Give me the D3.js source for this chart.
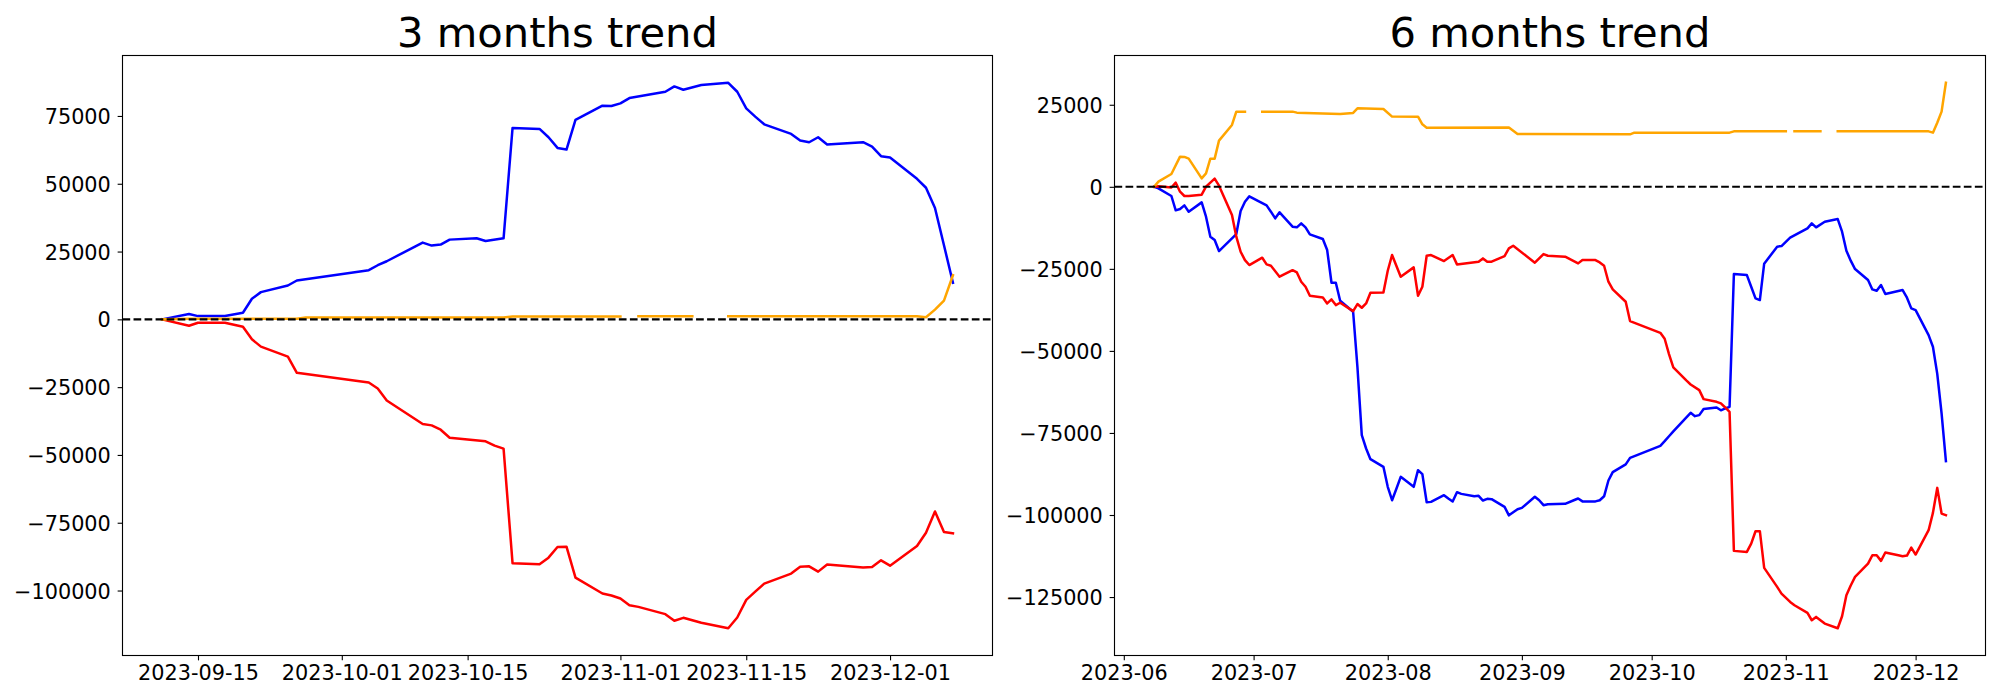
<!DOCTYPE html>
<html><head><meta charset="utf-8">
<script src="https://cdn.jsdelivr.net/npm/d3@7"></script>
<style>body{margin:0;background:#fff}svg{display:block}</style>
</head><body><svg id="chart" width="2000" height="700"></svg>
<script>
// ---------- 3 months trend ----------
const m3Blue = [["2023-09-11",0],["2023-09-14",1950],["2023-09-15",1200],["2023-09-18",1200],["2023-09-20",2440],["2023-09-21",7590],["2023-09-22",10040],["2023-09-25",12490],["2023-09-26",14330],["2023-10-04",18125],["2023-10-05",19960],["2023-10-06",21430],["2023-10-10",28300],["2023-10-11",27190],["2023-10-12",27560],["2023-10-13",29400],["2023-10-16",29890],["2023-10-17",28910],["2023-10-19",29890],["2023-10-20",70580],["2023-10-23",70210],["2023-10-24",67150],["2023-10-25",63220],["2023-10-26",62610],["2023-10-27",73520],["2023-10-30",78790],["2023-10-31",78670],["2023-11-01",79640],["2023-11-02",81600],["2023-11-06",83930],["2023-11-07",85900],["2023-11-08",84670],["2023-11-10",86390],["2023-11-13",87240],["2023-11-14",83930],["2023-11-15",77810],["2023-11-16",74740],["2023-11-17",71920],["2023-11-20",68370],["2023-11-21",65920],["2023-11-22",65310],["2023-11-23",67150],["2023-11-24",64450],["2023-11-28",65310],["2023-11-29",63710],["2023-11-30",60160],["2023-12-01",59670],["2023-12-04",51840],["2023-12-05",48530],["2023-12-06",41040],["2023-12-07",27320],["2023-12-08",13470]];
const m3Red = [["2023-09-11",0],["2023-09-14",-2340],["2023-09-15",-1240],["2023-09-18",-1240],["2023-09-20",-2700],["2023-09-21",-7360],["2023-09-22",-10060],["2023-09-25",-13740],["2023-09-26",-19700],["2023-10-04",-23300],["2023-10-05",-25490],["2023-10-06",-29910],["2023-10-10",-38610],["2023-10-11",-39100],["2023-10-12",-40700],["2023-10-13",-43640],["2023-10-17",-44990],["2023-10-18",-46580],["2023-10-19",-47680],["2023-10-20",-89960],["2023-10-23",-90330],["2023-10-24",-87870],["2023-10-25",-83960],["2023-10-26",-83830],["2023-10-27",-95220],["2023-10-30",-101100],["2023-10-31",-101840],["2023-11-01",-102940],["2023-11-02",-105390],["2023-11-03",-106020],["2023-11-06",-108710],["2023-11-07",-111160],["2023-11-08",-110060],["2023-11-10",-111900],["2023-11-13",-113900],["2023-11-14",-109940],["2023-11-15",-103440],["2023-11-16",-100380],["2023-11-17",-97440],["2023-11-20",-93760],["2023-11-21",-91190],["2023-11-22",-91070],["2023-11-23",-93030],["2023-11-24",-90440],["2023-11-28",-91540],["2023-11-29",-91310],["2023-11-30",-88860],["2023-12-01",-90820],["2023-12-04",-83590],["2023-12-05",-78690],["2023-12-06",-70840],["2023-12-07",-78450],["2023-12-08",-78930]];
const m3Orange = [["2023-09-11",0],["2023-09-14",200],["2023-09-26",200],["2023-09-27",650],["2023-10-19",700],["2023-10-20",1050],["2023-11-01",1050],["2023-11-02",null],["2023-11-03",1100],["2023-11-09",1100],["2023-11-10",null],["2023-11-13",1100],["2023-12-04",1100],["2023-12-05",800],["2023-12-06",3600],["2023-12-07",6900],["2023-12-08",16300]];
const m3YTicks = [-100000,-75000,-50000,-25000,0,25000,50000,75000];
const m3XTicks = ["2023-09-15","2023-10-01","2023-10-15","2023-11-01","2023-11-15","2023-12-01"];

// ---------- 6 months trend ----------
const m6Blue = [["2023-06-08",0],["2023-06-09",-500],["2023-06-12",-2800],["2023-06-13",-7170],["2023-06-14",-6770],["2023-06-15",-5650],["2023-06-16",-7580],["2023-06-19",-4740],["2023-06-20",-9100],["2023-06-21",-15200],["2023-06-22",-16220],["2023-06-23",-19570],["2023-06-27",-14390],["2023-06-28",-7380],["2023-06-29",-4530],["2023-06-30",-2910],["2023-07-04",-5650],["2023-07-05",-7580],["2023-07-06",-9610],["2023-07-07",-7780],["2023-07-10",-12150],["2023-07-11",-12350],["2023-07-12",-11140],["2023-07-13",-12350],["2023-07-14",-14490],["2023-07-17",-15910],["2023-07-18",-19270],["2023-07-19",-29230],["2023-07-20",-29230],["2023-07-21",-34720],["2023-07-24",-38070],["2023-07-25",-55000],["2023-07-26",-75670],["2023-07-27",-79740],["2023-07-28",-82990],["2023-07-31",-85330],["2023-08-01",-91420],["2023-08-02",-95490],["2023-08-03",-92000],["2023-08-04",-88370],["2023-08-07",-91420],["2023-08-08",-86340],["2023-08-09",-87560],["2023-08-10",-96100],["2023-08-11",-96000],["2023-08-14",-93960],["2023-08-15",-95000],["2023-08-16",-95900],["2023-08-17",-93050],["2023-08-18",-93560],["2023-08-21",-94270],["2023-08-22",-94170],["2023-08-23",-95590],["2023-08-24",-95080],["2023-08-25",-95180],["2023-08-28",-97520],["2023-08-29",-100100],["2023-08-31",-98230],["2023-09-01",-97830],["2023-09-04",-94420],["2023-09-05",-95490],["2023-09-06",-97010],["2023-09-07",-96700],["2023-09-11",-96600],["2023-09-13",-95500],["2023-09-14",-94980],["2023-09-15",-95850],["2023-09-18",-95850],["2023-09-19",-95490],["2023-09-20",-94300],["2023-09-21",-89500],["2023-09-22",-86950],["2023-09-25",-84560],["2023-09-26",-82580],["2023-10-03",-78920],["2023-10-04",-77500],["2023-10-05",-76000],["2023-10-06",-74500],["2023-10-10",-68860],["2023-10-11",-69880],["2023-10-12",-69570],["2023-10-13",-67700],["2023-10-16",-67250],["2023-10-17",-68100],["2023-10-18",-67540],["2023-10-19",-67030],["2023-10-20",-26590],["2023-10-23",-26890],["2023-10-24",-30450],["2023-10-25",-34000],["2023-10-26",-34510],["2023-10-27",-23430],["2023-10-30",-18250],["2023-10-31",-18050],["2023-11-02",-15510],["2023-11-06",-12660],["2023-11-07",-11140],["2023-11-08",-12350],["2023-11-10",-10630],["2023-11-13",-9820],["2023-11-14",-13680],["2023-11-15",-19470],["2023-11-16",-22500],["2023-11-17",-25060],["2023-11-20",-28410],["2023-11-21",-31260],["2023-11-22",-31670],["2023-11-23",-29940],["2023-11-24",-32680],["2023-11-28",-31460],["2023-11-29",-33800],["2023-11-30",-37050],["2023-12-01",-37560],["2023-12-04",-45180],["2023-12-05",-48740],["2023-12-06",-57000],["2023-12-07",-69000],["2023-12-08",-83600]];
const m6Red = [["2023-06-08",0],["2023-06-09",200],["2023-06-12",-200],["2023-06-13",1260],["2023-06-14",-1480],["2023-06-15",-2800],["2023-06-16",-2800],["2023-06-19",-2400],["2023-06-20",40],["2023-06-22",2480],["2023-06-23",340],["2023-06-26",-8600],["2023-06-27",-15200],["2023-06-28",-19780],["2023-06-29",-22320],["2023-06-30",-23840],["2023-07-03",-21600],["2023-07-04",-23640],["2023-07-05",-24040],["2023-07-07",-27400],["2023-07-10",-25400],["2023-07-11",-26080],["2023-07-12",-28920],["2023-07-13",-30450],["2023-07-14",-33190],["2023-07-17",-33700],["2023-07-18",-35530],["2023-07-19",-34310],["2023-07-20",-36040],["2023-07-21",-35330],["2023-07-24",-37870],["2023-07-25",-35730],["2023-07-26",-36850],["2023-07-27",-35530],["2023-07-28",-32280],["2023-07-31",-32180],["2023-08-01",-25570],["2023-08-02",-20790],["2023-08-04",-27400],["2023-08-07",-24550],["2023-08-08",-33190],["2023-08-09",-30450],["2023-08-10",-21000],["2023-08-11",-20790],["2023-08-14",-22620],["2023-08-16",-20790],["2023-08-17",-23640],["2023-08-22",-22820],["2023-08-23",-21810],["2023-08-24",-22820],["2023-08-25",-22820],["2023-08-28",-21100],["2023-08-29",-18760],["2023-08-30",-17950],["2023-09-04",-23130],["2023-09-06",-20490],["2023-09-07",-21000],["2023-09-11",-21300],["2023-09-14",-23330],["2023-09-15",-22320],["2023-09-18",-22320],["2023-09-19",-23030],["2023-09-20",-24040],["2023-09-21",-28920],["2023-09-22",-31260],["2023-09-25",-35020],["2023-09-26",-40900],["2023-10-03",-44500],["2023-10-04",-46300],["2023-10-05",-50980],["2023-10-06",-55000],["2023-10-09",-59000],["2023-10-10",-60230],["2023-10-12",-61950],["2023-10-13",-64690],["2023-10-16",-65510],["2023-10-17",-66010],["2023-10-18",-67240],["2023-10-19",-68560],["2023-10-20",-110930],["2023-10-23",-111240],["2023-10-24",-108700],["2023-10-25",-104940],["2023-10-26",-104940],["2023-10-27",-116120],["2023-10-30",-121910],["2023-10-31",-123940],["2023-11-02",-126500],["2023-11-03",-127500],["2023-11-06",-129840],["2023-11-07",-132070],["2023-11-08",-131050],["2023-11-10",-133090],["2023-11-13",-134500],["2023-11-14",-130850],["2023-11-15",-124450],["2023-11-16",-121500],["2023-11-17",-118860],["2023-11-20",-114800],["2023-11-21",-112260],["2023-11-22",-112260],["2023-11-23",-113980],["2023-11-24",-111440],["2023-11-27",-112260],["2023-11-28",-112570],["2023-11-29",-112360],["2023-11-30",-109920],["2023-12-01",-112050],["2023-12-04",-104630],["2023-12-05",-99350],["2023-12-06",-91730],["2023-12-07",-99560],["2023-12-08",-100060]];
const m6Orange = [["2023-06-08",0],["2023-06-09",1565],["2023-06-12",3900],["2023-06-14",9190],["2023-06-15",9100],["2023-06-16",8580],["2023-06-19",2580],["2023-06-20",4100],["2023-06-21",8580],["2023-06-22",8580],["2023-06-23",14060],["2023-06-26",18840],["2023-06-27",22900],["2023-06-29",22900],["2023-06-30",null],["2023-07-03",22900],["2023-07-10",22900],["2023-07-11",22600],["2023-07-17",22300],["2023-07-21",22200],["2023-07-24",22500],["2023-07-25",23900],["2023-07-31",23700],["2023-08-02",21400],["2023-08-08",21380],["2023-08-09",19040],["2023-08-10",18030],["2023-08-29",18100],["2023-08-31",16100],["2023-09-26",16000],["2023-09-27",16500],["2023-10-19",16500],["2023-10-20",16900],["2023-11-01",16900],["2023-11-02",null],["2023-11-03",16900],["2023-11-09",16900],["2023-11-10",null],["2023-11-13",16900],["2023-12-04",16900],["2023-12-05",16500],["2023-12-06",19500],["2023-12-07",22900],["2023-12-08",31700]];
const m6YTicks = [-125000,-100000,-75000,-50000,-25000,0,25000];
const m6XTicks = ["2023-06","2023-07","2023-08","2023-09","2023-10","2023-11","2023-12"];

const seriesColors = ["#0000ff", "#ff0000", "#ffa500"];

const svg = d3.select("#chart");
const parseDay = d3.utcParse("%Y-%m-%d");
const parseMonth = d3.utcParse("%Y-%m");
const FONT = "DejaVu Sans";

function fmtNum(v) {
  return (v < 0 ? "\u2212" : "") + Math.abs(v);
}

function panel(opts) {
  const { left, right, top, bottom, title, series, yTicks, xTicks, xParse } = opts;
  const parsed = series.map(s => s.map(([d, v]) => ({ date: parseDay(d), value: v })));
  const all = parsed.flat();
  const [x0, x1] = d3.extent(all, d => d.date);
  const xPad = (x1 - x0) * 0.05;
  const x = d3.scaleUtc().domain([new Date(+x0 - xPad), new Date(+x1 + xPad)]).range([left, right]);
  const vals = all.filter(d => d.value !== null).map(d => d.value);
  const [y0, y1] = d3.extent(vals);
  const yPad = (y1 - y0) * 0.05;
  const y = d3.scaleLinear().domain([y0 - yPad, y1 + yPad]).range([bottom, top]);

  const g = svg.append("g");

  const line = d3.line()
    .defined(d => d.value !== null)
    .x(d => x(d.date))
    .y(d => y(d.value));

  parsed.forEach((p, i) => {
    g.append("path")
      .datum(p)
      .attr("d", line)
      .attr("fill", "none")
      .attr("stroke", seriesColors[i])
      .attr("stroke-width", 2.5)
      .attr("stroke-linejoin", "round")
      .attr("stroke-linecap", "square");
  });

  // dashed zero line
  g.append("line")
    .attr("x1", left).attr("x2", right)
    .attr("y1", y(0)).attr("y2", y(0))
    .attr("stroke", "#000")
    .attr("stroke-width", 2.08)
    .attr("stroke-dasharray", "7.7,3.33");

  // axes
  const xAxis = d3.axisBottom(x)
    .tickValues(xTicks.map(xParse))
    .tickFormat((d, i) => xTicks[i])
    .tickSize(4.86).tickPadding(4.86);
  const gx = g.append("g").attr("transform", `translate(0,${bottom})`).call(xAxis);
  const yAxis = d3.axisLeft(y)
    .tickValues(yTicks)
    .tickFormat(fmtNum)
    .tickSize(4.86).tickPadding(6.8);
  const gy = g.append("g").attr("transform", `translate(${left},0)`).call(yAxis);
  [gx, gy].forEach(a => {
    a.select(".domain").remove();
    a.selectAll(".tick line").attr("stroke", "#000").attr("stroke-width", 1.11);
    a.selectAll(".tick text").attr("fill", "#000")
      .style("font-family", FONT).style("font-size", "20.8px");
  });
  gy.selectAll(".tick text").attr("dy", "0.36em");

  // frame
  g.append("rect")
    .attr("x", left).attr("y", top)
    .attr("width", right - left).attr("height", bottom - top)
    .attr("fill", "none").attr("stroke", "#000").attr("stroke-width", 1.11);

  // title
  g.append("text")
    .attr("x", (left + right) / 2).attr("y", top - 8.33)
    .attr("text-anchor", "middle")
    .style("font-family", FONT).style("font-size", "41.67px")
    .attr("fill", "#000")
    .text(title);
}

panel({
  left: 122.5, right: 992.5, top: 55.5, bottom: 655.5,
  title: "3 months trend",
  series: [m3Blue, m3Red, m3Orange],
  yTicks: m3YTicks, xTicks: m3XTicks, xParse: parseDay
});
panel({
  left: 1114.5, right: 1985.5, top: 55.5, bottom: 655.5,
  title: "6 months trend",
  series: [m6Blue, m6Red, m6Orange],
  yTicks: m6YTicks, xTicks: m6XTicks, xParse: parseMonth
});
</script>
</body></html>
